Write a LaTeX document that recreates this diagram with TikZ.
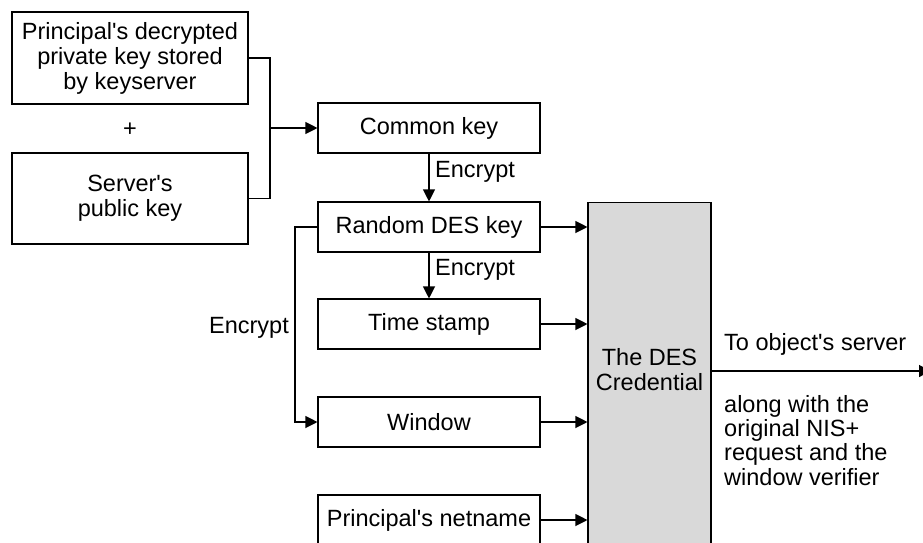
\documentclass[tikz,border=0pt]{standalone}
\usepackage{fontspec}
\setmainfont{Liberation Sans}[Ligatures=TeXOff]
\usetikzlibrary{arrows.meta}
\begin{document}
\begin{tikzpicture}[x=1pt,y=-1pt,
  txt/.style={font=\fontsize{23.5}{25}\selectfont},
  box/.style={draw, line width=1.1pt, inner sep=0pt, align=center, txt},
  lbl/.style={inner sep=0pt, txt},
  ln/.style={line width=1.1pt},
  arr/.style={line width=1.1pt, -{Triangle[length=12pt,width=12pt]}}]
\useasboundingbox (0,0) rectangle (923,542);
\clip (0,0) rectangle (923,542);
% left input boxes
\node[box, minimum width=236pt, minimum height=92pt] (pk) at (130,58) {Principal's decrypted\\private key stored\\by keyserver};
\node[lbl] (plus) at (130,130) {+};
\node[box, minimum width=236pt, minimum height=91pt] (spk) at (130,198.5) {Server's\\public key};
% centre column
\node[box, minimum width=222pt, minimum height=50pt] (ck) at (429,128) {Common key};
\node[box, minimum width=222pt, minimum height=50pt] (rk) at (429,227) {Random DES key};
\node[box, minimum width=222pt, minimum height=50pt] (ts) at (429,324) {Time stamp};
\node[box, minimum width=222pt, minimum height=50pt] (win) at (429,422) {Window};
\node[box, minimum width=222pt, minimum height=50pt] (nn) at (429,520) {Principal's netname};
% credential
\node[draw, line width=1.1pt, fill=gray!30, minimum width=123pt, minimum height=360pt, anchor=north, inner sep=0pt] (cred) at (649.5,202) {};
\node[lbl, align=center] (credtxt) at (649.5,370) {The DES\\Credential};
% labels
\node[lbl, anchor=base west] (enc1) at (435,177) {Encrypt};
\node[lbl, anchor=base west] (enc2) at (435,275) {Encrypt};
\node[lbl, anchor=base east] (enc3) at (289,333) {Encrypt};
\node[lbl, anchor=base west] (toserv) at (724,350) {To object's server};
\node[lbl, anchor=north west, align=left, font=\fontsize{23.5}{24.3}\selectfont] (along) at (724,395) {along with the\\original NIS+\\request and the\\window verifier};
% connectors
\coordinate (j) at (270,128);
\coordinate (b) at (295,300);
\coordinate (out) at (931,371);
\draw[ln] (pk.east) -- (pk.east -| j) -- (spk.east -| j) -- (spk.east);
\draw[arr] (j) -- (ck.west);
\draw[arr] (ck) -- (rk);
\draw[arr] (rk) -- (ts);
\draw[arr] (rk.west) -- (rk.west -| b) -- (b |- win.west) -- (win.west);
\draw[arr] (rk.east) -- (rk.east -| cred.west);
\draw[arr] (ts.east) -- (ts.east -| cred.west);
\draw[arr] (win.east) -- (win.east -| cred.west);
\draw[arr] (nn.east) -- (nn.east -| cred.west);
\draw[arr] (cred.east |- out) -- (out);
\end{tikzpicture}
\end{document}
